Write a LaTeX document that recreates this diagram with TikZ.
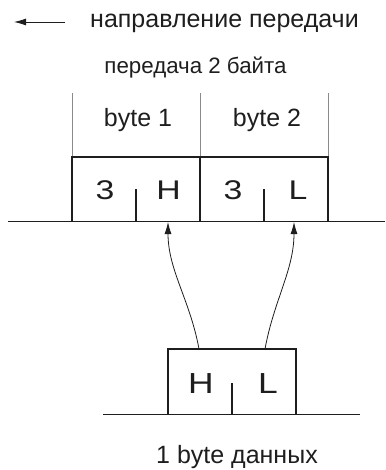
\documentclass[tikz,border=0pt]{standalone}
\usepackage{fontspec}
\setmainfont{Liberation Sans}
\usetikzlibrary{arrows.meta}
\definecolor{ink}{HTML}{1E1E1E}
\definecolor{thin}{HTML}{8A8A8A}
\tikzset{
  lbl/.style={inner sep=0pt, text=ink, font=\fontsize{25}{29}\selectfont},
  sub/.style={inner sep=0pt, text=ink, font=\fontsize{22.3}{27}\selectfont},
  big/.style={inner sep=0pt, text=ink, xscale=1.25, font=\fontsize{27}{31}\selectfont},
  bigger/.style={inner sep=0pt, text=ink, xscale=1.22, font=\fontsize{29}{33}\selectfont},
  boxline/.style={draw=ink, line width=1.7pt},
  guide/.style={draw=thin, line width=0.8pt},
  arr/.style={draw=ink, line width=0.8pt, -{Latex[length=12pt,width=7pt]}},
}
\begin{document}
\begin{tikzpicture}[x=1pt,y=-1pt]
\useasboundingbox (0,0) rectangle (385,470);
% direction legend
\coordinate (da) at (65,22);
\coordinate (db) at (14,22);
\draw[arr] (da) -- (db);
\node[lbl] (dir) at (224.5,23) {направление передачи};
\node[sub] (t2) at (195.5,68) {передача 2 байта};
% guides
\coordinate (g1t) at (72,93);  \coordinate (g1b) at (72,157);
\coordinate (g2t) at (200,93); \coordinate (g2b) at (200,157);
\coordinate (g3t) at (328,93); \coordinate (g3b) at (328,157);
\draw[guide] (g1t) -- (g1b) (g2t) -- (g2b) (g3t) -- (g3b);
\node[lbl] (b1) at (138,120) {byte 1};
\node[lbl] (b2) at (267,120) {byte 2};
% upper frame
\coordinate (ul) at (8,221.5);
\coordinate (ur) at (385,221.5);
\draw[boxline] (ul) -- (ur);
\draw[boxline] (72,221.5) -- (72,157) -- (328,157) -- (328,221.5);
\draw[boxline] (200,157) -- (200,221.5);
\draw[boxline] (136,189) -- (136,221.5);
\draw[boxline] (264,189) -- (264,221.5);
\node[big] (u3a) at (105,190) {3};
\node[big] (uH) at (168.5,190) {H};
\node[big] (u3b) at (233,190) {3};
\node[big] (uL) at (298,190) {L};
% lower frame
\coordinate (ll) at (103,414.5);
\coordinate (lr) at (360,414.5);
\draw[boxline] (ll) -- (lr);
\draw[boxline] (168,414.5) -- (168,349) -- (296,349) -- (296,414.5);
\draw[boxline] (232,383) -- (232,414.5);
\node[bigger] (lH) at (201,384) {H};
\node[bigger] (lL) at (268,384) {L};
\node[lbl] (cap) at (237,457) {1 byte данных};
% curves
\coordinate (s1) at (199,349);
\coordinate (e1) at (168,222);
\coordinate (s2) at (265,349);
\coordinate (e2) at (294,222);
\draw[arr] (s1) .. controls (190,300) and (168,270) .. (e1);
\draw[arr] (s2) .. controls (274,300) and (294,270) .. (e2);
\end{tikzpicture}
\end{document}
